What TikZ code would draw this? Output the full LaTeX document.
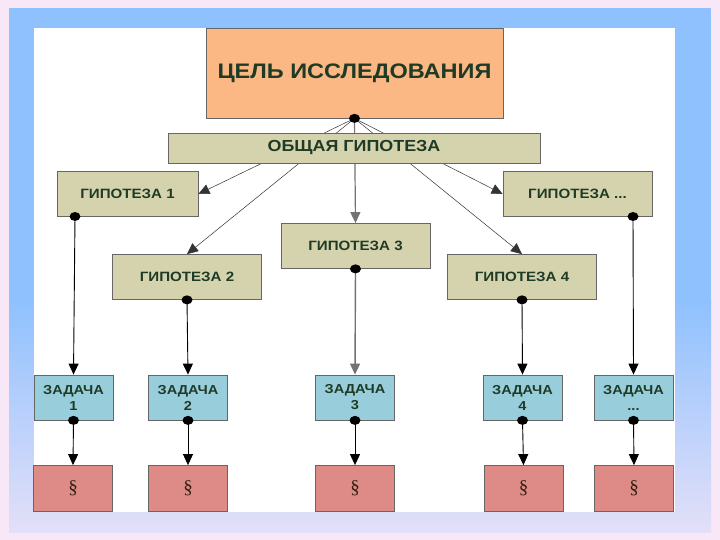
\documentclass[tikz,border=0pt]{standalone}
\usepackage{fontspec}
\setmainfont{Liberation Serif}
\newfontfamily\boxfont[FakeStretch=1.12]{Liberation Sans}
\usepackage{tikz}
\usetikzlibrary{arrows.meta}
\usepackage{xcolor}
\definecolor{color0}{HTML}{FBB784}
\definecolor{color1}{HTML}{D5D3AD}
\definecolor{color2}{HTML}{98CEDB}
\definecolor{color3}{HTML}{DE8B88}
\definecolor{color4}{HTML}{8FC1FF}
\definecolor{color5}{HTML}{F8E7F6}
\definecolor{txt}{HTML}{1F3B26}
\colorlet{l-color4}{color4!20!color5}

\begin{document}
\begin{tikzpicture}[x=1pt, y=-1pt,
  box/.style={draw=black!60, line width=0.8pt, inner sep=0pt, text=txt, align=center},
  goalbox/.style={box, fill=color0, minimum width=297, minimum height=90,
    font=\boxfont\bfseries\fontsize{21}{24}\selectfont},
  genbox/.style={box, fill=color1, minimum width=372, minimum height=30,
    font=\boxfont\bfseries\fontsize{16}{18}\selectfont},
  hypbox/.style={box, fill=color1, minimum width=149, minimum height=45,
    font=\boxfont\bfseries\fontsize{13.5}{15}\selectfont},
  taskbox/.style={box, fill=color2, minimum width=79, minimum height=45,
    font=\boxfont\bfseries\fontsize{13}{16}\selectfont},
  parbox/.style={box, fill=color3, minimum width=79, minimum height=46,
    text=black!75!brown, font=\fontsize{19}{20}\selectfont},
  fan/.style={-{Triangle[length=11pt, width=10pt]}, line width=0.5pt, black!80},
  link/.style={-{Triangle[length=11pt, width=10pt]}, line width=0.9pt}]
  \useasboundingbox (0,0) rectangle (720,540);
  % frame
  \fill[color5] (0,0) rectangle (720,540);
  \fill[color4] (9,8) rectangle (711,300);
  \shade[top color=color4, bottom color=l-color4] (9,300) rectangle (711,532);
  \fill[white] (34,28) rectangle (675,512);

  \node[goalbox] (goal) at (354.5,73) {ЦЕЛЬ ИССЛЕДОВАНИЯ};

  \node[hypbox, minimum width=141] (h1) at (127.5,194) {ГИПОТЕЗА 1};
  \node[hypbox] (h2) at (187,277) {ГИПОТЕЗА 2};
  \node[hypbox] (h3) at (355.5,246) {ГИПОТЕЗА 3};
  \node[hypbox] (h4) at (522,277) {ГИПОТЕЗА 4};
  \node[hypbox] (h5) at (577.5,194) {ГИПОТЕЗА ...};

  \node[taskbox] (t1) at (73.5,397.5) {ЗАДАЧА\\1};
  \node[taskbox] (t2) at (188,397.5) {ЗАДАЧА\\2};
  \node[taskbox] (t3) at (355,397.5) {ЗАДАЧА\\3};
  \node[taskbox] (t4) at (522.5,397.5) {ЗАДАЧА\\4};
  \node[taskbox] (t5) at (633.5,397.5) {ЗАДАЧА\\...};

  \node[parbox] (s1) at (73,488.5) {\S};
  \node[parbox] (s2) at (188,488.5) {\S};
  \node[parbox] (s3) at (355,488.5) {\S};
  \node[parbox] (s4) at (523.5,488.5) {\S};
  \node[parbox] (s5) at (634,488.5) {\S};

  \coordinate (g-dot) at (goal.south);
  \coordinate (h1-dot) at (75,216.5);
  \coordinate (h5-dot) at (633,216.5);

  % fan from the goal
  \draw[fan] (g-dot) -- (h1.east);
  \draw[fan] (g-dot) -- (h2.north);
  \draw[fan, line width=1.2pt, black!55] (g-dot) -- (h3.north);
  \draw[fan] (g-dot) -- (h4.north);
  \draw[fan] (g-dot) -- (h5.west);
  \node[genbox] (gen) at (354,148) {ОБЩАЯ ГИПОТЕЗА};

  % hypotheses to tasks
  \draw[link] (h1-dot) -- (t1.north);
  \draw[link] (h2.south) -- (t2.north);
  \draw[link, black!55, line width=1.4pt] (h3.south) -- (t3.north);
  \draw[link] (h4.south) -- (t4.north);
  \draw[link] (h5-dot) -- (t5.north);
  \foreach \i in {1,...,5}
    \draw[link] (t\i.south) -- (s\i.north);

  \foreach \d in {g-dot, h1-dot, h2.south, h3.south, h4.south, h5-dot,
      t1.south, t2.south, t3.south, t4.south, t5.south}
    \fill (\d) ellipse (5.5 and 4.5);
\end{tikzpicture}
\end{document}
